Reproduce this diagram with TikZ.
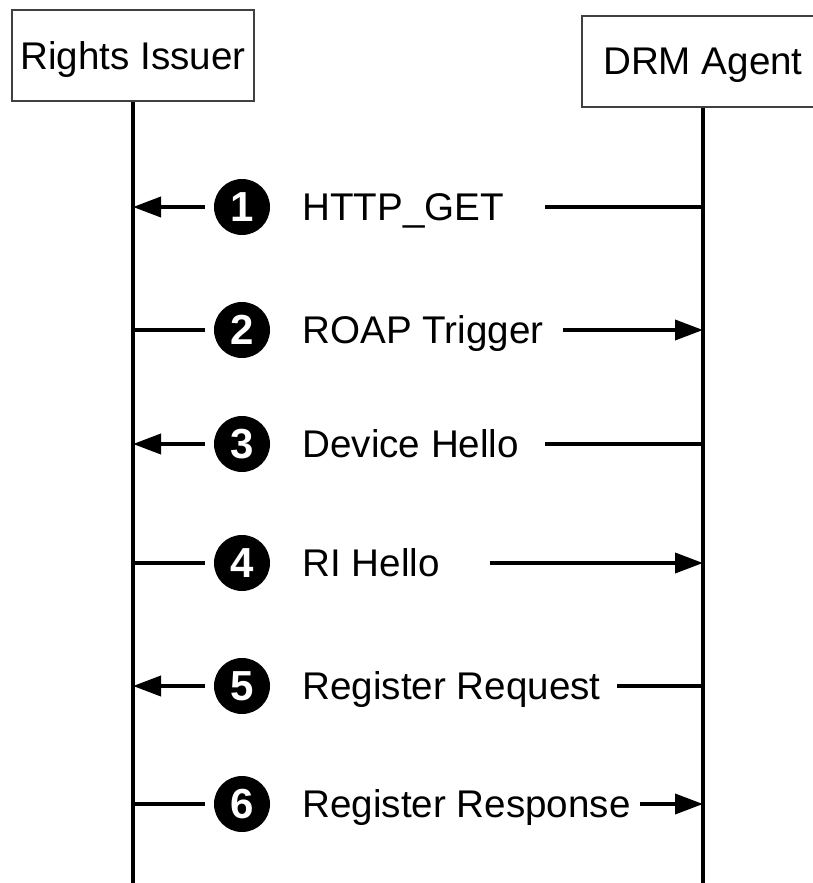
\documentclass[tikz,border=0pt]{standalone}
\usepackage{fontspec}
\setmainfont{Liberation Sans}
\usepackage{tikz}
\usetikzlibrary{positioning}
\usetikzlibrary{arrows.meta}
\tikzstyle{party}=[draw=black!75,line width=1pt,fill=white,minimum width=121pt,minimum height=45.5pt,inner sep=0pt,text height=13.5pt,text depth=0pt,font=\fontsize{19.3}{23}\selectfont]
\tikzstyle{lifeline} = [draw,line width=1.9pt]
\tikzstyle{stepnum}=[circle,fill=black,minimum size=28pt,inner sep=0pt,text=white,font=\bfseries\fontsize{21}{21}\selectfont]
\tikzstyle{msgtext}=[anchor=base west,inner sep=0pt,font=\fontsize{19.3}{23}\selectfont]
\tikzstyle{edge} = [draw,line width=1.9pt,-{Triangle[length=14pt,width=10pt]}]
\tikzstyle{plainedge} = [draw,line width=1.9pt]

\begin{document}
\begin{tikzpicture}[x=0.5pt,y=-0.5pt]
    \useasboundingbox (0,0) rectangle (813,883);
    \clip (0,0) rectangle (813,883);
    % the two parties, then their lifelines
    \node[party] (RI) at (133,56) {Rights Issuer};
    \node[party] (DRM) at (703,61.5) {DRM Agent};
    \coordinate (RIend) at (133,883);
    \coordinate (DRMend) at (703,883);
    \path[lifeline] (RI.south) -- (RIend);
    \path[lifeline] (DRM.south) -- (DRMend);

    % messages from the DRM Agent to the Rights Issuer
    \foreach \n/\y/\msg/\from in {1/207/HTTP\_GET/545, 3/444/Device Hello/545, 5/686/Register Request/617}
    {
        \node[stepnum] (s\n) at (242,\y) {\n};
        \node[msgtext] (t\n) at (302,\y+13.5) {\msg};
        \coordinate (ri\n) at (133,\y);
        \coordinate (drm\n) at (703,\y);
        \coordinate (from\n) at (\from,\y);
        \path[edge] ([xshift=-4.5pt]s\n.west) -- (ri\n);
        \path[plainedge] (from\n) -- (drm\n);
    }
    % messages from the Rights Issuer to the DRM Agent
    \foreach \n/\y/\msg/\from in {2/330/ROAP Trigger/563, 4/563/RI Hello/490, 6/804/Register Response/640}
    {
        \node[stepnum] (s\n) at (242,\y) {\n};
        \node[msgtext] (t\n) at (302,\y+13.5) {\msg};
        \coordinate (ri\n) at (133,\y);
        \coordinate (drm\n) at (703,\y);
        \coordinate (from\n) at (\from,\y);
        \path[plainedge] (ri\n) -- ([xshift=-4.5pt]s\n.west);
        \path[edge] (from\n) -- (drm\n);
    }
\end{tikzpicture}
\end{document}
